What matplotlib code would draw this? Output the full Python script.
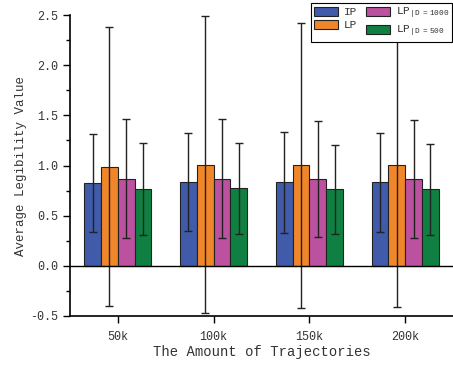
import matplotlib
matplotlib.use("Agg")
from matplotlib import pyplot as plt
import numpy as np

plt.rcParams['font.family'] = ['Liberation Mono', 'DejaVu Sans']
plt.rcParams['mathtext.default'] = 'regular'

categories = ['50k', '100k', '150k', '200k']
series = ['IP', 'LP', r'LP$_{\mathregular{|D\ =1000}}$', r'LP$_{\mathregular{|D\ =500}}$']
colors = ['#3F5BA9', '#F0862A', '#BB519F', '#0F8042']

# moyennes et écarts
ip_mean = [0.824, 0.831, 0.831, 0.831]
ip_err = [0.485, 0.488, 0.50, 0.495]
lp_mean = [0.989, 1.007, 1.001, 1.001]
lp_err = [1.388, 1.48, 1.42, 1.413]
lp1000_mean = [0.869, 0.87, 0.868, 0.868]
lp1000_err = [0.59, 0.595, 0.58, 0.59]
lp500_mean = [0.765, 0.772, 0.761, 0.761]
lp500_err = [0.455, 0.45, 0.447, 0.455]

means = [ip_mean, lp_mean, lp1000_mean, lp500_mean]
errs = [ip_err, lp_err, lp1000_err, lp500_err]

fig = plt.figure(figsize=(4.53, 3.67), dpi=100)
ax = fig.add_axes([70/453, 51/367, 383/453, 301/367])

x = np.arange(len(categories))
w = 0.175
handles = []
for i in range(4):
    pos = x + (i - 1.5) * w
    b = ax.bar(pos, means[i], w, color=colors[i], edgecolor='#222222', linewidth=0.8,
               label=series[i], zorder=2)
    ax.errorbar(pos, means[i], yerr=errs[i], fmt='none', ecolor='#222222',
                elinewidth=1, capsize=3, capthick=1, zorder=3)
    handles.append(b)

ax.axhline(0, color='black', linewidth=1, zorder=4)
ax.set_xlim(-0.5, 3.5)
ax.set_ylim(-0.5, 2.5)
ax.set_xticks(x)
ax.set_xticklabels(categories)
ax.set_yticks(np.arange(-0.5, 2.51, 0.5))
ax.set_yticks(np.arange(-0.5, 2.51, 0.25), minor=True)
ax.set_yticklabels(['%.1f' % v for v in np.arange(-0.5, 2.51, 0.5)])
ax.tick_params(axis='both', which='major', direction='out', length=5, width=1,
               labelsize=8.5, labelcolor='#333333')
ax.tick_params(axis='x', pad=6)
ax.tick_params(axis='y', which='minor', direction='out', length=3, width=1)
for s in ['top', 'right']:
    ax.spines[s].set_visible(False)
for s in ['left', 'bottom']:
    ax.spines[s].set_linewidth(1.2)

ax.set_xlabel('The Amount of Trajectories', fontsize=10, labelpad=1, color='#333333')
ax.set_ylabel('Average Legibility Value', fontsize=9, labelpad=2, color='#333333')

leg = fig.legend(handles=handles, loc='upper right', bbox_to_anchor=(452/453, 1 - 3/367),
                 ncol=2, fontsize=8, frameon=True, fancybox=False, framealpha=1,
                 edgecolor='black', handlelength=2.2, handleheight=0.9,
                 columnspacing=0.8, borderpad=0.25, labelspacing=0.2, handletextpad=0.5,
                 borderaxespad=0)
leg.get_frame().set_linewidth(0.8)
for t in leg.get_texts():
    t.set_color('#333333')

fig.savefig('out.png', dpi=100)
